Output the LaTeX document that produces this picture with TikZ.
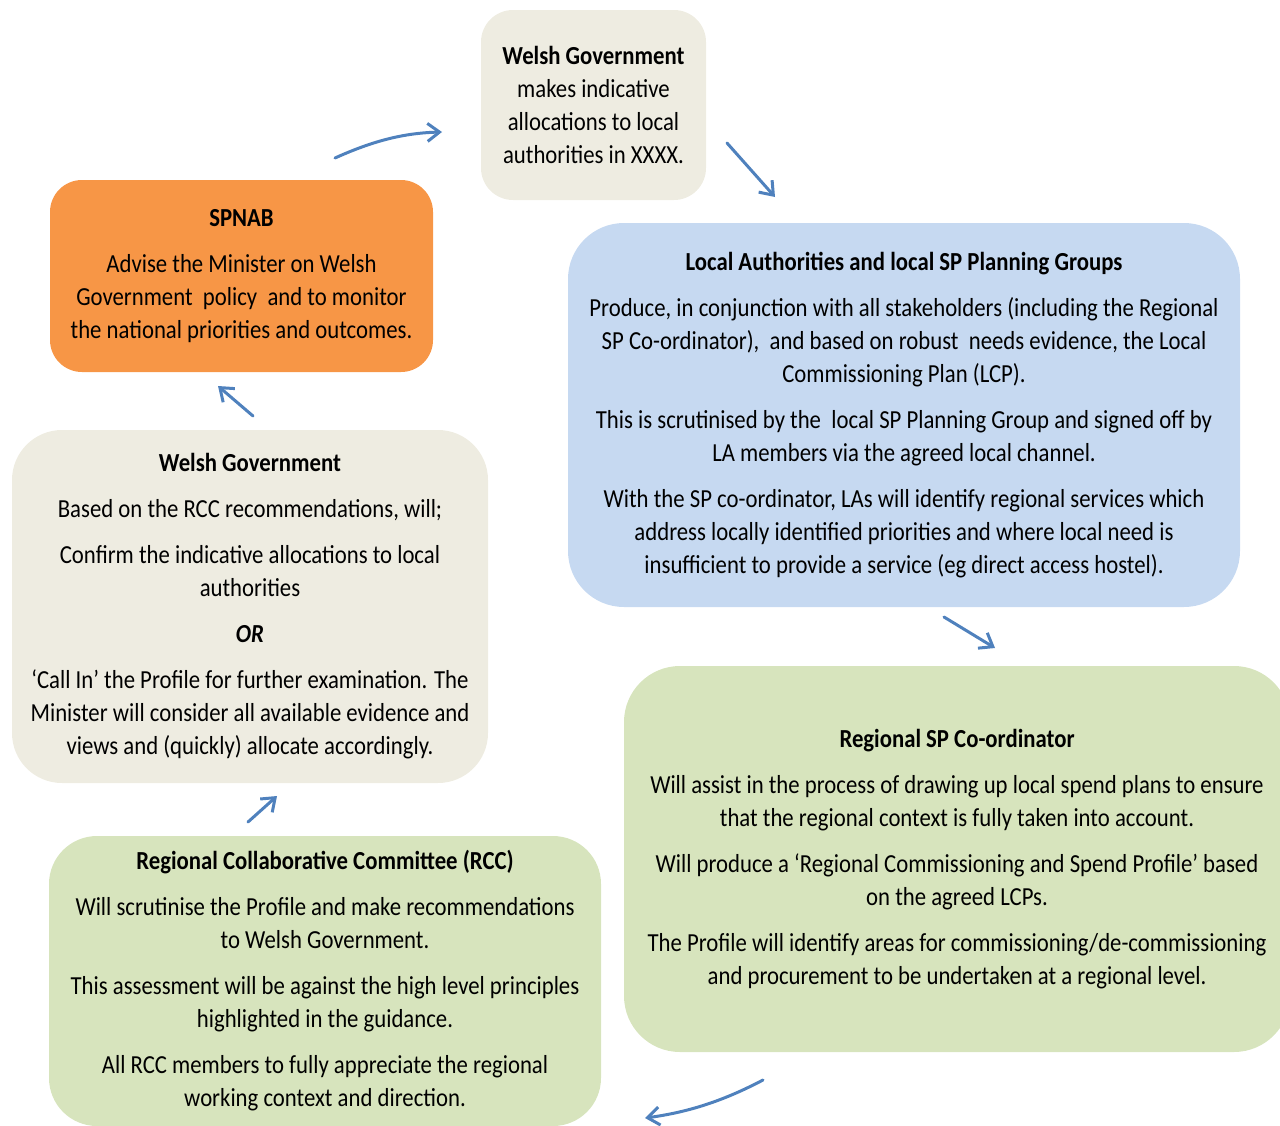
\documentclass[tikz,border=0pt]{standalone}
\usepackage{fontspec}
\setmainfont[FakeStretch=0.875]{Carlito}
\usetikzlibrary{arrows.meta}
\definecolor{beige}{HTML}{EEECE1}
\definecolor{orng}{HTML}{F79646}
\definecolor{lblue}{HTML}{C6D9F1}
\definecolor{lgreen}{HTML}{D7E4BD}
\definecolor{arrowblue}{HTML}{4F81BD}
\tikzset{
  box/.style={fill=#1, draw=none, align=center, inner sep=0pt,
    font=\fontsize{13pt}{16.5pt}\selectfont},
  flow/.style={draw=arrowblue, line width=1.5pt, line cap=round,
    -{Straight Barb[length=6pt,width=9pt,line width=1.5pt]}}
}
\newcommand{\pg}{\\[6.5pt]}
\begin{document}
\begin{tikzpicture}[x=0.5pt,y=-0.5pt]
\useasboundingbox (0,0) rectangle (1280,1125);

\node[box=beige, minimum width=112.5pt, minimum height=95pt, rounded corners=16pt] (wgtop) at (593.5,105)
{\textbf{Welsh Government}\\makes indicative\\allocations to local\\authorities in XXXX.};

\node[box=orng, minimum width=191.5pt, minimum height=96pt, rounded corners=16pt] (spnab) at (241.5,276)
{\textbf{SPNAB}\pg Advise the Minister on Welsh\\Government\ \ policy\ \ and to monitor\\the national priorities and outcomes.};

\node[box=lblue, minimum width=336pt, minimum height=192pt, rounded corners=28pt] (la) at (904,415)
{\textbf{Local Authorities and local SP Planning Groups}\pg
Produce, in conjunction with all stakeholders (including the Regional\\
SP Co-ordinator),\ \ and based on robust\ \ needs evidence, the Local\\
Commissioning Plan (LCP).\pg
This is scrutinised by the\ \ local SP Planning Group and signed off by\\
LA members via the agreed local channel.\pg
With the SP co-ordinator, LAs will identify regional services which\\
address locally identified priorities and where local need is\\
insufficient to provide a service (eg direct access hostel).};

\node[box=beige, minimum width=238pt, minimum height=176.5pt, rounded corners=25pt] (wgleft) at (250,606.5)
{\textbf{Welsh Government}\pg
Based on the RCC recommendations, will;\pg
Confirm the indicative allocations to local\\authorities\pg
\textbf{\textit{OR}}\pg
‘Call In’ the Profile for further examination. The\\
Minister will consider all available evidence and\\
views and (quickly) allocate accordingly.};

\node[box=lgreen, minimum width=333pt, minimum height=193pt, rounded corners=28pt] (reg) at (957,859)
{\textbf{Regional SP Co-ordinator}\pg
Will assist in the process of drawing up local spend plans to ensure\\
that the regional context is fully taken into account.\pg
Will produce a ‘Regional Commissioning and Spend Profile’ based\\
on the agreed LCPs.\pg
The Profile will identify areas for commissioning/de-commissioning\\
and procurement to be undertaken at a regional level.};

\node[box=lgreen, minimum width=276pt, minimum height=145pt, rounded corners=24pt] (rcc) at (325,981)
{\textbf{Regional Collaborative Committee (RCC)}\pg
Will scrutinise the Profile and make recommendations\\
to Welsh Government.\pg
This assessment will be against the high level principles\\
highlighted in the guidance.\pg
All RCC members to fully appreciate the regional\\
working context and direction.};

% arrow end points
\coordinate (a1s) at (335,158);  \coordinate (a1e) at (442,132);
\coordinate (a2s) at (727,143);  \coordinate (a2e) at (775,197);
\coordinate (a3s) at (944,617);  \coordinate (a3e) at (995,648);
\coordinate (a4s) at (763,1080); \coordinate (a4e) at (645,1118);
\coordinate (a5s) at (253,416);  \coordinate (a5e) at (218,386);
\coordinate (a6s) at (248,822);  \coordinate (a6e) at (277,796);

\draw[flow] (a1s) .. controls (375,140) and (405,133) .. (a1e);
\draw[flow] (a2s) -- (a2e);
\draw[flow] (a3s) -- (a3e);
\draw[flow] (a4s) .. controls (725,1100) and (690,1112) .. (a4e);
\draw[flow] (a5s) -- (a5e);
\draw[flow] (a6s) -- (a6e);
\end{tikzpicture}
\end{document}
